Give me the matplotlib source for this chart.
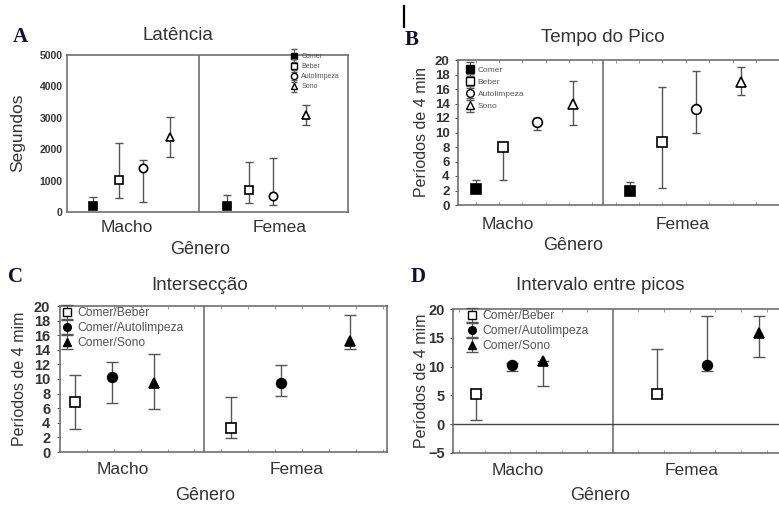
import matplotlib
matplotlib.use('Agg')
import matplotlib.pyplot as plt
import numpy as np
from matplotlib.ticker import MultipleLocator
from matplotlib.container import ErrorbarContainer
from matplotlib.legend_handler import HandlerErrorbar

plt.rcParams['font.family'] = ['Liberation Sans', 'DejaVu Sans']

# ---------------- data ----------------
groups = ['Macho', 'Femea']
xlabel = 'Gênero'

# A - Latência (segundos)
a_series = ['Comer', 'Beber', 'Autolimpeza', 'Sono']
a_mean = [[180, 200], [1020, 700], [1400, 500], [2400, 3100]]
a_low = [[180, 200], [450, 290], [330, 220], [1760, 2780]]
a_high = [[480, 540], [2200, 1600], [1660, 1720], [3030, 3420]]

# B - Tempo do Pico (períodos de 4 min)
b_series = ['Comer', 'Beber', 'Autolimpeza', 'Sono']
b_mean = [[2.2, 1.9], [8.0, 8.7], [11.4, 13.2], [13.9, 17.0]]
b_low = [[2.2, 1.9], [3.5, 2.4], [10.4, 9.9], [11.0, 15.2]]
b_high = [[3.4, 3.2], [8.0, 16.3], [12.0, 18.5], [17.1, 19.0]]

# C - Intersecção
c_series = ['Comer/Beber', 'Comer/Autolimpeza', 'Comer/Sono']
c_mean = [[6.8, 3.3], [10.3, 9.5], [9.5, 15.2]]
c_low = [[3.2, 1.9], [6.7, 7.7], [5.9, 14.1]]
c_high = [[10.6, 7.6], [12.3, 11.9], [13.4, 18.7]]

# D - Intervalo entre picos
d_series = ['Comer/Beber', 'Comer/Autolimpeza', 'Comer/Sono']
d_mean = [[5.3, 5.3], [10.3, 10.3], [11.0, 15.9]]
d_low = [[0.8, 5.3], [9.3, 9.2], [6.7, 11.6]]
d_high = [[5.3, 13.1], [10.6, 18.7], [11.0, 18.7]]

# ---------------- layout / style ----------------
W, H = 779, 505
fig = plt.figure(figsize=(W / 100, H / 100), dpi=100)


def fx(x):
    return x / W


def fy(y):
    return 1 - y / H


def add_axes(l, t, r, b):
    return fig.add_axes([fx(l), fy(b), (r - l) / W, (b - t) / H])


SP = '#6f6f6f'
TXT = '#333333'
EC = '#555555'

styles4 = [dict(marker='s', mfc='black'), dict(marker='s', mfc='white'),
           dict(marker='o', mfc='white'), dict(marker='^', mfc='white')]
styles3 = [dict(marker='s', mfc='white'), dict(marker='o', mfc='black'),
           dict(marker='^', mfc='black')]


def panel(ax, series, mean, low, high, offsets, styles, xlim, ylim, yticks,
          divider, xtick_pos, ms, cap, tick_fs, tick_pad, xl_pad,
          minor=None, right_spine=True, leg_ms=None, leg_cap=None):
    for i, name in enumerate(series):
        m = np.array(mean[i], float)
        lo = np.array(low[i], float)
        hi = np.array(high[i], float)
        x = np.arange(len(groups)) + np.array([offsets[g][i] for g in range(len(groups))])
        ax.errorbar(x, m, yerr=[m - lo, hi - m], fmt='none', ecolor=EC,
                    elinewidth=1.0, capsize=cap, capthick=1.0, zorder=2)
        ax.plot(x, m, linestyle='none', marker=styles[i]['marker'],
                mfc=styles[i]['mfc'], mec='black', mew=1.2, ms=ms, zorder=3)
        # legend proxy (placed outside the visible x-range)
        mid = 0.5 * (ylim[0] + ylim[1])
        span = 0.05 * (ylim[1] - ylim[0])
        ax.errorbar([xlim[0] - 5], [mid], yerr=[[span], [span]],
                    fmt=styles[i]['marker'], mfc=styles[i]['mfc'],
                    mec='black', mew=1.0, ms=leg_ms or ms * 0.8, ecolor=EC,
                    elinewidth=0.8, capsize=leg_cap or cap, capthick=0.8,
                    label=name)
    ax.set_xlim(*xlim)
    ax.set_ylim(*ylim)
    ax.set_yticks(yticks)
    ax.set_xticks(xtick_pos, groups)
    ax.axvline(divider, color=SP, lw=1.2, zorder=1)
    for s in ax.spines.values():
        s.set_color(SP)
        s.set_linewidth(1.2)
    if not right_spine:
        ax.spines['right'].set_visible(False)
    ax.tick_params(axis='y', labelsize=tick_fs, colors=TXT, length=2 if minor else 0,
                   width=0.6, pad=tick_pad, direction='out')
    ax.tick_params(axis='x', which='major', labelsize=12.5, colors=TXT, length=0, pad=xl_pad)
    if minor:
        ax.xaxis.set_minor_locator(MultipleLocator(minor))
        ax.tick_params(axis='x', which='minor', direction='in', length=2.5, width=0.6,
                       color='#888888', top=True, bottom=True)
    for lab in ax.get_yticklabels():
        lab.set_fontweight('bold')


def legend(ax, x, y, fs, spacing, hl=0.9, tp=0.5, esize=0.75):
    leg = ax.legend(loc='upper left', bbox_to_anchor=(fx(x), fy(y)),
                    bbox_transform=fig.transFigure, frameon=False, fontsize=fs,
                    handlelength=hl, handletextpad=tp, labelspacing=spacing,
                    borderpad=0, borderaxespad=0,
                    handler_map={ErrorbarContainer: HandlerErrorbar(xerr_size=esize,
                                                                    yerr_size=esize)})
    for t in leg.get_texts():
        t.set_color('#555555')
    return leg


# Panel A
axA = add_axes(67, 55, 348, 212)
panel(axA, a_series, a_mean, a_low, a_high,
      [[-0.289, -0.092, 0.089, 0.292], [-0.277, -0.111, 0.070, 0.319]],
      styles4, (-0.485, 1.636), (0, 5000), np.arange(0, 5001, 1000), 0.511,
      [-0.03, 1.12], 6.0, 3.2, 7.5, 3, 6.0, leg_ms=4.5, leg_cap=2.5)
legend(axA, 291, 53, 5, 0.45, hl=0.8, tp=0.7, esize=0.9)

# Panel B
axB = add_axes(458, 60, 790, 205)
panel(axB, b_series, b_mean, b_low, b_high,
      [[-0.289, -0.120, 0.092, 0.317], [-0.327, -0.127, 0.086, 0.367]],
      styles4, (-0.402, 1.673), (0, 20), np.arange(0, 21, 2), 0.505,
      [-0.09, 1.004], 7.0, 3.0, 9.5, 4, 8.5, minor=0.146, right_spine=False,
      leg_ms=5.5, leg_cap=3.0)
legend(axB, 466, 66, 6, 0.5, hl=0.9, tp=0.5, esize=0.85)

# Panel C
axC = add_axes(60, 306, 387, 452)
panel(axC, c_series, c_mean, c_low, c_high,
      [[-0.223, -0.010, 0.232], [-0.324, -0.036, 0.361]],
      styles3, (-0.309, 1.573), (0, 20), np.arange(0, 21, 2), 0.520,
      [0.054, 1.05], 7.0, 4.0, 10.5, 5, 7.0, minor=0.155,
      leg_ms=5.5, leg_cap=4.0)
legend(axC, 62, 307, 8.7, 0.25, hl=0.9, tp=0.4, esize=0.6)

# Panel D
axD = add_axes(453, 309, 790, 453)
panel(axD, d_series, d_mean, d_low, d_high,
      [[-0.174, 0.009, 0.166], [-0.257, -0.003, 0.260]],
      styles3, (-0.290, 1.418), (-5, 20), np.arange(-5, 21, 5), 0.520,
      [0.04, 0.92], 7.0, 4.0, 10.5, 4, 7.0, minor=0.13, right_spine=False,
      leg_ms=5.5, leg_cap=4.0)
axD.axhline(0, color='#444444', lw=1.0, zorder=1)
legend(axD, 467, 310, 8.7, 0.25, hl=0.9, tp=0.4, esize=0.6)

# Titles, panel letters, axis labels
titles = [('Latência', 178, 35), ('Tempo do Pico', 603, 38),
          ('Intersecção', 200, 285), ('Intervalo entre picos', 600, 285)]
for txt, x, y in titles:
    fig.text(fx(x), fy(y), txt, ha='center', va='center', fontsize=13.5, color=TXT)

letters = [('A', 20, 37), ('B', 412, 40), ('C', 15, 277), ('D', 418, 277)]
for txt, x, y in letters:
    fig.text(fx(x), fy(y), txt, ha='center', va='center', fontsize=15,
             fontweight='bold', family=['Liberation Serif', 'DejaVu Serif'], color='#101030')

ylabels = [('Segundos', 18, 133, 12.5), ('Períodos de 4 min', 422, 132, 11.5),
           ('Períodos de 4 mim', 20, 379, 11.5), ('Períodos de 4 mim', 422, 381, 11.5)]
for txt, x, y, fs in ylabels:
    fig.text(fx(x), fy(y), txt, ha='center', va='center', rotation=90, fontsize=fs, color=TXT)

xlabels = [(200, 249), (573, 245), (205, 495), (600, 495)]
for x, y in xlabels:
    fig.text(fx(x), fy(y), xlabel, ha='center', va='center', fontsize=13, color=TXT)

# small cursor mark above B
fig.add_artist(plt.Line2D([fx(404), fx(404)], [fy(6), fy(27)], color='black', lw=1.6))

fig.savefig('out.png', dpi=100)
